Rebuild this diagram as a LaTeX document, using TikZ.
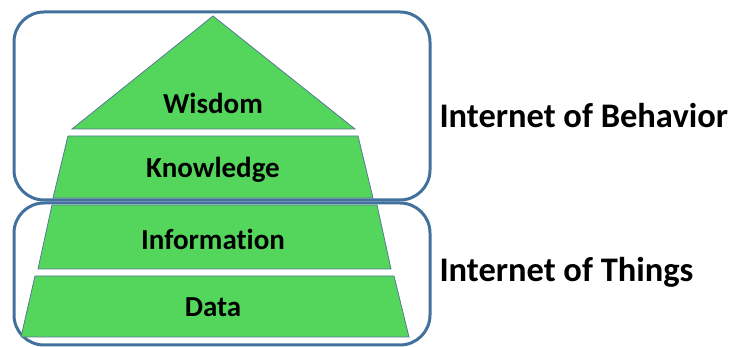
\documentclass[tikz,border=0pt]{standalone}
\usepackage{fontspec}
\setmainfont{Carlito}[Ligatures={NoCommon,NoDiscretionary}]
\usepackage{tikz}
\definecolor{layergreen}{RGB}{84,214,92}
\definecolor{layerline}{RGB}{88,120,150}
\definecolor{groupblue}{RGB}{65,113,156}
\tikzset{
  layer/.style={fill=layergreen, draw=layerline, line width=0.8pt},
  grp/.style={draw=groupblue, line width=3pt, rounded corners=30pt},
  lvl/.style={font=\fontsize{29}{34}\selectfont\bfseries},
  side/.style={font=\fontsize{34.5}{40}\selectfont\bfseries, anchor=west}
}

\begin{document}
\begin{tikzpicture}[x=1pt, y=-1pt]
			%%%%% START %%%%%
			\useasboundingbox (0, 0) rectangle (731, 347);
			
			\draw[grp] (14, 12) rectangle (430, 200);
			\draw[grp] (14, 203) rectangle (430, 345);
			
			\draw[layer] (213, 16) -- (355, 129) -- (72, 129) -- cycle;
			\draw[layer] (68, 136) -- (358, 136) -- (373, 198) -- (53, 198) -- cycle;
			\draw[layer] (52, 205) -- (377, 205) -- (391, 269) -- (38, 269) -- cycle;
			\draw[layer] (35, 276) -- (394, 276) -- (409, 337) -- (21, 337) -- cycle;
			
			\node[lvl] (wisdom) at (213, 103) {Wisdom};
			\node[lvl] (knowledge) at (213, 170) {Knowledge};
			\node[lvl] (information) at (213, 239) {Information};
			\node[lvl] (data) at (213, 307) {Data};
			
			\node[side] (iob) at (436, 116) {Internet of Behavior};
			\node[side] (iot) at (436, 272) {Internet of Things};
			
			%%%%% END %%%%%
\end{tikzpicture}
\end{document}
